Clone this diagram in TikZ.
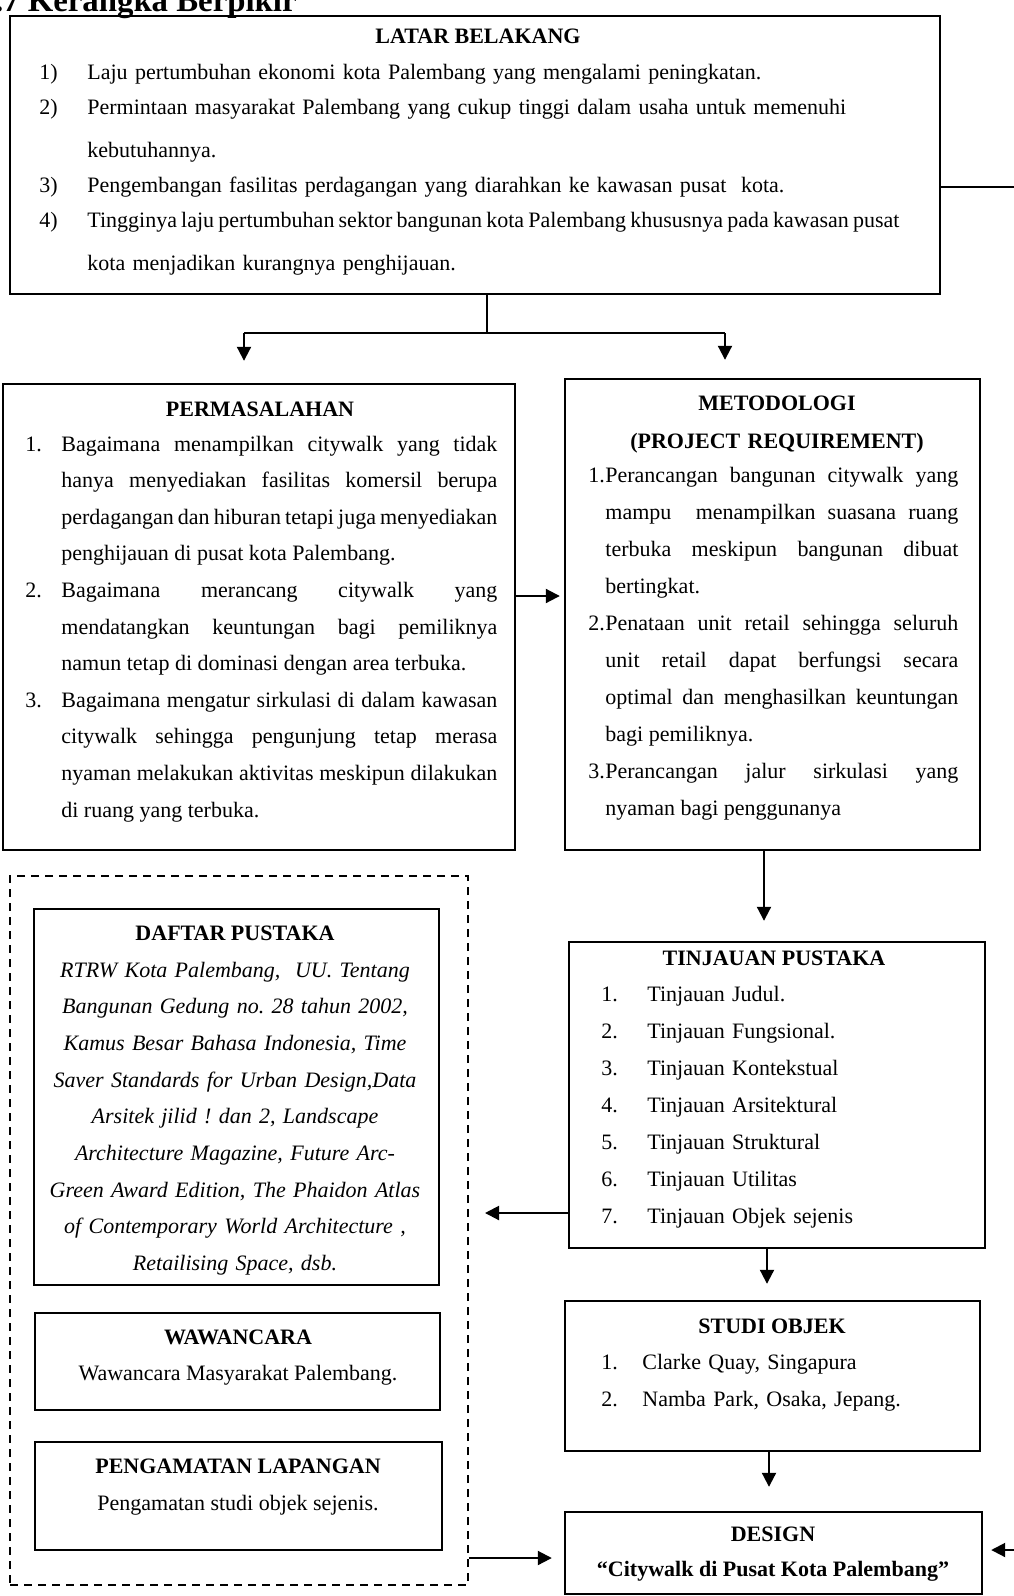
\documentclass[tikz,border=0pt]{standalone}
\usepackage{fontspec}
\setmainfont{Liberation Serif}
\usetikzlibrary{arrows.meta, positioning, fit}
\frenchspacing

\newcommand{\numbox}[2]{\makebox[#1][l]{#2}}
\newcommand{\hangitem}[2]{\noindent\hangindent=#1\hangafter=1\makebox[#1][l]{#2}}

\begin{document}
\begin{tikzpicture}[x=0.5pt, y=-0.5pt,
    box/.style = {draw, line width=1.2pt, inner sep=0pt},
    dashbox/.style = {draw, dash pattern=on 4pt off 3pt, line width=1pt, inner sep=0pt},
    txt/.style = {inner sep=0pt, font=\fontsize{11}{18.4}\selectfont},
    head/.style = {inner sep=0pt, anchor=base, font=\fontsize{11}{18.4}\selectfont\bfseries},
    link/.style = {line width=1pt},
    arr/.style = {line width=1pt, -{Triangle[length=7pt, width=7pt]}}]
    \useasboundingbox (0,0) rectangle (1013,1596);
    % \draw [help lines, step=100] (0,0) grid (1013,1596);

    % title, cut by the page edge
    \node (judul) [anchor=base east, inner sep=0pt,
        font=\fontsize{16.4}{20}\selectfont\bfseries] at (297,11) {2.7 Kerangka Berpikir};

    % boxes
    \node (latar) [box, fit={(10,16) (940,294)}] {};
    \node (perm) [box, fit={(3,384) (515,850)}] {};
    \node (meto) [box, fit={(565,379) (980,850)}] {};
    \node (dash) [dashbox, fit={(10,876) (468,1585)}] {};
    \node (daftar) [box, fit={(34,909) (439,1285)}] {};
    \node (wawan) [box, fit={(35,1313) (440,1410)}] {};
    \node (amat) [box, fit={(35,1442) (442,1550)}] {};
    \node (tinj) [box, fit={(569,942) (985,1248)}] {};
    \node (studi) [box, fit={(565,1301) (980,1451)}] {};
    \node (design) [box, fit={(565,1512) (982,1594)}] {};

    % LATAR BELAKANG
    \node (latarhd) [head] at (478,43) {LATAR BELAKANG};
    \node (latarls) [txt, anchor=base west, text width=450pt, align=left,
        font=\fontsize{11}{17.5}\selectfont] at (39,79) {%
        \numbox{24pt}{1)}Laju pertumbuhan ekonomi kota Palembang yang mengalami peningkatan.\\
        \numbox{24pt}{2)}Permintaan masyarakat Palembang yang cukup tinggi dalam usaha untuk memenuhi\\[4pt]
        \numbox{24pt}{}kebutuhannya.\\
        \numbox{24pt}{3)}Pengembangan fasilitas perdagangan yang diarahkan ke kawasan pusat\ \ kota.\\
        \numbox{24pt}{4)}{\spaceskip=0.19em plus 0.1em Tingginya laju pertumbuhan sektor bangunan kota Palembang khususnya pada kawasan pusat}\\[4pt]
        \numbox{24pt}{}kota menjadikan kurangnya penghijauan.};

    % PERMASALAHAN
    \node (permhd) [head] at (260,416) {PERMASALAHAN};
    \node (permls) [txt, anchor=base west, text width=236pt, align=justify,
        font=\fontsize{11}{18.3}\selectfont] at (25,451) {%
        \hangitem{18pt}{1.}Bagaimana menampilkan citywalk yang tidak\linebreak
        hanya menyediakan fasilitas komersil berupa\linebreak
        perdagangan dan hiburan tetapi juga menyediakan\linebreak
        penghijauan di pusat kota Palembang.\par
        \hangitem{18pt}{2.}Bagaimana merancang citywalk yang\linebreak
        mendatangkan keuntungan bagi pemiliknya\linebreak
        namun tetap di dominasi dengan area terbuka.\par
        \hangitem{18pt}{3.}Bagaimana mengatur sirkulasi di dalam kawasan\linebreak
        citywalk sehingga pengunjung tetap merasa\linebreak
        nyaman melakukan aktivitas meskipun dilakukan\linebreak
        di ruang yang terbuka.\par};

    % METODOLOGI
    \node (metohd) [head, text width=220pt, align=center,
        font=\fontsize{11}{19}\selectfont\bfseries] at (777,410)
        {METODOLOGI\\(PROJECT REQUIREMENT)};
    \node (metols) [txt, anchor=base west, text width=185pt, align=justify,
        font=\fontsize{11}{18.5}\selectfont] at (588,482) {%
        \hangitem{8.5pt}{1.}Perancangan bangunan citywalk yang\linebreak
        mampu\ \ menampilkan suasana ruang\linebreak
        terbuka meskipun bangunan dibuat\linebreak
        bertingkat.\par
        \hangitem{8.5pt}{2.}Penataan unit retail sehingga seluruh\linebreak
        unit retail dapat berfungsi secara\linebreak
        optimal dan menghasilkan keuntungan\linebreak
        bagi pemiliknya.\par
        \hangitem{8.5pt}{3.}Perancangan jalur sirkulasi yang\linebreak
        nyaman bagi penggunanya\par};

    % TINJAUAN PUSTAKA
    \node (tinjhd) [head] at (774,965) {TINJAUAN PUSTAKA};
    \node (tinjls) [txt, anchor=base west, text width=180pt, align=left,
        font=\fontsize{11}{18.5}\selectfont] at (601,1001) {%
        \numbox{23pt}{1.}Tinjauan Judul.\\
        \numbox{23pt}{2.}Tinjauan Fungsional.\\
        \numbox{23pt}{3.}Tinjauan Kontekstual\\
        \numbox{23pt}{4.}Tinjauan Arsitektural\\
        \numbox{23pt}{5.}Tinjauan Struktural\\
        \numbox{23pt}{6.}Tinjauan Utilitas\\
        \numbox{23pt}{7.}Tinjauan Objek sejenis};

    % STUDI OBJEK
    \node (studihd) [head] at (772,1333) {STUDI OBJEK};
    \node (studils) [txt, anchor=base west, text width=180pt, align=left,
        font=\fontsize{11}{18.7}\selectfont] at (601,1369) {%
        \numbox{20.5pt}{1.}Clarke Quay, Singapura\\
        \numbox{20.5pt}{2.}Namba Park, Osaka, Jepang.};

    % DESIGN
    \node (designhd) [head] at (773,1541) {DESIGN};
    \node (designls) [head] at (773,1576) {``Citywalk di Pusat Kota Palembang''};

    % DAFTAR PUSTAKA
    \node (daftarhd) [head] at (235,940) {DAFTAR PUSTAKA};
    \node (daftarls) [txt, anchor=base, text width=200pt, align=center,
        font=\fontsize{11}{18.35}\selectfont\itshape] at (235,977) {%
        RTRW Kota Palembang,\ \ UU. Tentang\\
        Bangunan Gedung no. 28 tahun 2002,\\
        Kamus Besar Bahasa Indonesia, Time\\
        Saver Standards for Urban Design,Data\\
        Arsitek jilid ! dan 2, Landscape\\
        Architecture Magazine, Future Arc-\\
        Green Award Edition, The Phaidon Atlas\\
        of Contemporary World Architecture ,\\
        Retailising Space, dsb.};

    % WAWANCARA
    \node (wawanhd) [head] at (238,1344) {WAWANCARA};
    \node (wawanls) [txt, anchor=base] at (238,1380) {Wawancara Masyarakat Palembang.};

    % PENGAMATAN LAPANGAN
    \node (amathd) [head] at (238,1473) {PENGAMATAN LAPANGAN};
    \node (amatls) [txt, anchor=base] at (238,1510) {Pengamatan studi objek sejenis.};

    % connectors
    \coordinate (split) at (487,333);
    \coordinate (lft) at (244,333);
    \coordinate (rgt) at (725,333);
    \draw [link] (latar.south -| split) -- (split);
    \draw [link] (lft) -- (rgt);
    \draw [arr, shorten >=11pt] (lft) -- (lft |- perm.north);
    \draw [arr, shorten >=9pt] (rgt) -- (rgt |- meto.north);
    \draw [arr, shorten >=2pt] (perm.east |- 0,596) -- (meto.west |- 0,596);
    \draw [arr, shorten >=10pt] (meto.south -| 764,0) -- (tinj.north -| 764,0);
    \draw [arr, shorten >=8pt] (tinj.west |- 0,1213) -- (dash.east |- 0,1213);
    \draw [arr, shorten >=8pt] (tinj.south -| 767,0) -- (studi.north -| 767,0);
    \draw [arr, shorten >=12pt] (studi.south -| 769,0) -- (design.north -| 769,0);
    \draw [arr, shorten >=6pt] (dash.east |- 0,1558) -- (design.west |- 0,1558);
    \draw [arr, shorten >=4pt] (latar.east |- 0,187) -| (1040,1550) -- (design.east |- 0,1550);
\end{tikzpicture}
\end{document}
